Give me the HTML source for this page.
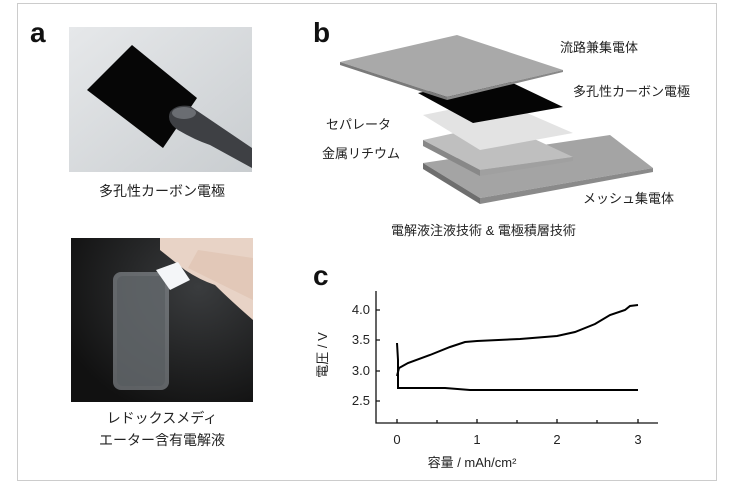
<!DOCTYPE html>
<html><head><meta charset="utf-8"><style>
body{margin:0;background:#fff;width:734px;height:489px;overflow:hidden;font-family:"Liberation Sans","Noto Sans CJK JP",sans-serif}
</style></head><body>
<svg width="734" height="489" viewBox="0 0 734 489" xmlns="http://www.w3.org/2000/svg" font-family="Liberation Sans, Noto Sans CJK JP, sans-serif">
<rect x="17.5" y="3.5" width="699" height="477" fill="#fff" stroke="#ccc"/>
<text x="30" y="42" font-size="28" font-weight="bold" fill="#111">a</text>
<text x="313" y="42" font-size="28" font-weight="bold" fill="#111">b</text>
<text x="313" y="285" font-size="28" font-weight="bold" fill="#111">c</text>
<defs>
<linearGradient id="g1" x1="0" y1="0" x2="1" y2="1"><stop offset="0" stop-color="#e6e8ea"/><stop offset="1" stop-color="#c9cdd0"/></linearGradient>
<radialGradient id="g2" cx="0.7" cy="0.3" r="0.8"><stop offset="0" stop-color="#3a3c3e"/><stop offset="1" stop-color="#111"/></radialGradient>
</defs>
<rect x="69" y="27" width="183" height="145" fill="url(#g1)"/>
<polygon points="87,90 132,45 197,98 163,148" fill="#060606"/>
<path d="M170,112 Q176,104 190,106 L252,148 L252,168 L210,145 Q195,140 178,130 Q166,122 170,112Z" fill="#3e4044"/>
<ellipse cx="184" cy="113" rx="12" ry="6" fill="#6a6d72"/>
<text x="162" y="196" font-size="14" text-anchor="middle" fill="#222">多孔性カーボン電極</text>
<rect x="71" y="238" width="182" height="164" fill="url(#g2)"/>
<path d="M160,238 L253,238 L253,320 Q230,300 215,285 Q200,280 185,270 L160,250Z" fill="#e8d3c6"/>
<path d="M188,268 L198,250 L253,258 L253,300 Z" fill="#e2c8b8"/>
<rect x="113" y="272" width="56" height="118" rx="8" fill="#9aa0a5" opacity="0.55"/>
<rect x="117" y="276" width="48" height="110" rx="6" fill="#555a5e" opacity="0.6"/>
<polygon points="156,270 178,262 190,280 170,290" fill="#f4f6f8"/>
<text x="162" y="423" font-size="14" text-anchor="middle" fill="#222">レドックスメディ</text>
<text x="162" y="445" font-size="14" text-anchor="middle" fill="#222">エーター含有電解液</text>
<polygon points="423,163 610,135 653,168 480,198" fill="#a4a4a4"/>
<polygon points="423,163 480,198 480,204 423,169" fill="#6e6e6e"/>
<polygon points="480,198 653,168 653,172 480,204" fill="#8a8a8a"/>
<polygon points="423,140 500,123 573,157 480,170" fill="#bfbfbf"/>
<polygon points="423,140 480,170 480,176 423,146" fill="#888"/>
<polygon points="480,170 573,157 573,161 480,176" fill="#a0a0a0"/>
<polygon points="423,115 497,100 573,133 480,150" fill="#e3e3e3"/>
<polygon points="418,93 500,77 563,107 473,123" fill="#050505"/>
<polygon points="340,62 457,35 563,70 447,97" fill="#a9a9a9"/>
<polygon points="340,62 447,97 447,100 340,65" fill="#7a7a7a"/>
<polygon points="447,97 563,70 563,72 447,100" fill="#888"/>
<g font-size="13" fill="#222">
<text x="560" y="52">流路兼集電体</text>
<text x="573" y="96">多孔性カーボン電極</text>
<text x="326" y="129">セパレータ</text>
<text x="322" y="158">金属リチウム</text>
<text x="583" y="203">メッシュ集電体</text>
<text x="391" y="235">電解液注液技術 &amp; 電極積層技術</text>
</g>
<g stroke="#111" stroke-width="1.3" fill="none">
<path d="M376,291 V423 H658"/>
<path d="M376,310 h4 M376,340 h4 M376,371 h4 M376,401 h4"/>
<path d="M397,423 v-4 M437,423 v-3 M477,423 v-4 M517,423 v-3 M557,423 v-4 M597,423 v-3 M638,423 v-4"/>
</g>
<g stroke="#000" stroke-width="2" fill="none">
<path d="M397,343 L398,360 L398,388 L445,388 L470,390 L638,390"/>
<path d="M397,376 L399,368 L408,363 L430,355 L450,347 L465,342 L477,341 L520,339 L557,336 L575,332 L595,324 L610,315 L625,310 L630,306 L638,305"/>
</g>
<g font-size="13" fill="#222">
<text x="370" y="314" text-anchor="end">4.0</text>
<text x="370" y="344" text-anchor="end">3.5</text>
<text x="370" y="375" text-anchor="end">3.0</text>
<text x="370" y="405" text-anchor="end">2.5</text>
<text x="397" y="444" text-anchor="middle">0</text>
<text x="477" y="444" text-anchor="middle">1</text>
<text x="557" y="444" text-anchor="middle">2</text>
<text x="638" y="444" text-anchor="middle">3</text>
<text x="472" y="467" text-anchor="middle">容量 / mAh/cm²</text>
<text transform="translate(327,355) rotate(-90)" text-anchor="middle">電圧 / V</text>
</g>
</svg>
</body></html>
